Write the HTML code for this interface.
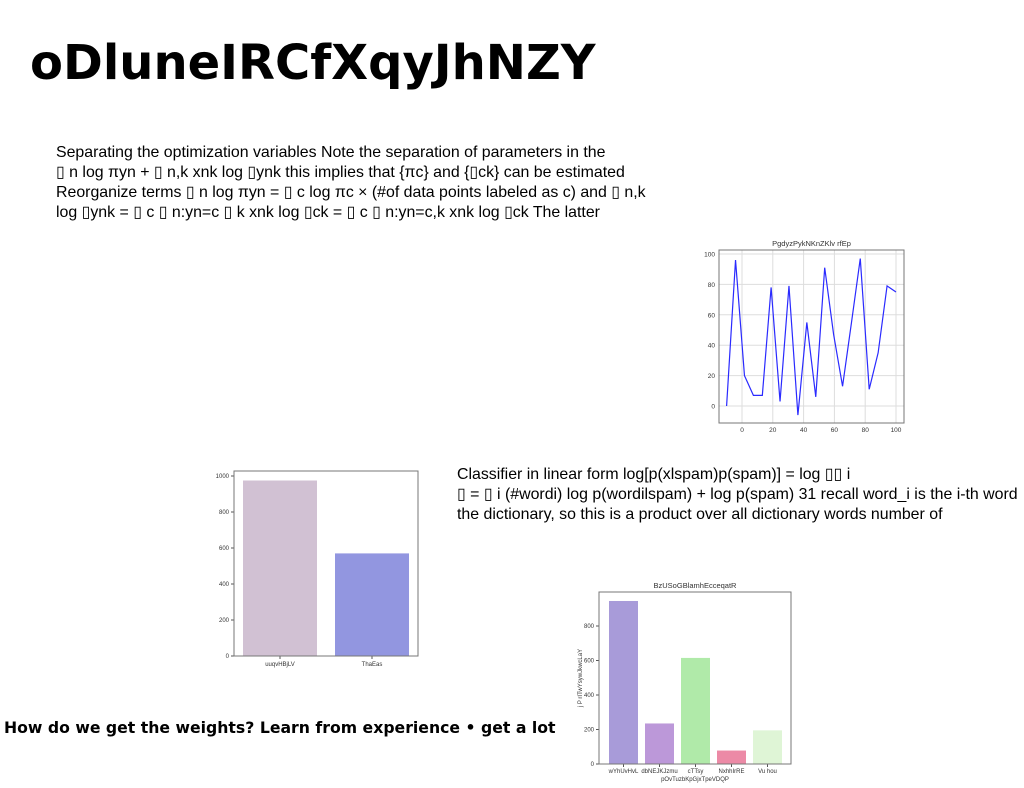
<!DOCTYPE html>
<html><head><meta charset="utf-8">
<style>
body{margin:0;width:1024px;height:788px;background:#fff;position:relative;overflow:hidden;font-family:"Liberation Sans","DejaVu Sans",sans-serif;color:#000}
.t{position:absolute;white-space:nowrap}
#title{left:30px;top:35px;font-size:48px;font-weight:bold;font-family:"DejaVu Sans","Liberation Sans",sans-serif}
.p{font-size:15.9px;line-height:20px}
svg{position:absolute;left:0;top:0}
svg text{font-family:"Liberation Sans","DejaVu Sans",sans-serif;fill:#333}
</style></head><body>
<div id="title" class="t">oDluneIRCfXqyJhNZY</div>
<div class="t p" style="left:56px;top:143px">Separating the optimization variables Note the separation of parameters in the<br>▯ n log πyn + ▯ n,k xnk log ▯ynk this implies that {πc} and {▯ck} can be estimated<br>Reorganize terms ▯ n log πyn = ▯ c log πc × (#of data points labeled as c) and ▯ n,k<br>log ▯ynk = ▯ c ▯ n:yn=c ▯ k xnk log ▯ck = ▯ c ▯ n:yn=c,k xnk log ▯ck The latter</div>
<div class="t p" style="left:457px;top:465px">Classifier in linear form log[p(xlspam)p(spam)] = log ▯▯ i<br>▯ = ▯ i (#wordi) log p(wordilspam) + log p(spam) 31 recall word_i is the i-th word<br>the dictionary, so this is a product over all dictionary words number of</div>
<div class="t" style="left:4px;top:718px;font-size:15.7px;font-weight:bold;font-family:'DejaVu Sans','Liberation Sans',sans-serif">How do we get the weights? Learn from experience • get a lot</div>
<svg id="svg" width="1024" height="788"></svg>
<script>
// Line chart data
const lineX=[-10,-4.2,1.6,7.4,13.2,18.9,24.7,30.5,36.3,42.1,47.9,53.7,59.5,65.3,71.1,76.8,82.6,88.4,94.2,100];
const lineY=[0,96,20,7,7,78,3,79,-6,55,6,91,47,13,55,97,11,35,79,75];
const lineXTicks=[0,20,40,60,80,100];
const lineYTicks=[0,20,40,60,80,100];
// Bar chart 1
const bar1Cats=["uuqvHBjLV","ThaEas"];
const bar1Vals=[975,570];
const bar1Ticks=[0,200,400,600,800,1000];
// Bar chart 2
const bar2Cats=["wYhUvHvL","dbNEJKJzmu","cTTsy","NxhhIrRE","Vu hou"];
const bar2Vals=[945,235,615,78,195];
const bar2Ticks=[0,200,400,600,800];

const S=document.getElementById('svg');const NS='http://www.w3.org/2000/svg';
function mk(tag,attrs,parent){const e=document.createElementNS(NS,tag);for(const k in attrs)e.setAttribute(k,attrs[k]);(parent||S).appendChild(e);return e;}
function txt(x,y,s,size,anchor,parent){const e=mk('text',{x:x,y:y,'font-size':size,'text-anchor':anchor||'middle'},parent);e.textContent=s;return e;}

// ---- Line chart
(function(){
const g=mk('g',{});


const L=719,R=904,T=250,B=423;
const sx=v=>742+(v-0)*(896-742)/100, sy=v=>406-(v-0)*(406-254)/100;
lineXTicks.forEach(v=>{const l=mk('line',{x1:sx(v),x2:sx(v),y1:T,y2:B,stroke:'#ddd','stroke-width':1},g);
 const t=txt(sx(v),432,v,6.5,'middle',g);});
lineYTicks.forEach(v=>{const l=mk('line',{x1:L,x2:R,y1:sy(v),y2:sy(v),stroke:'#ddd','stroke-width':1},g);
 const t=txt(L-4,sy(v)+2.5,v,6.5,'end',g);});
const fr=mk('rect',{x:L,y:T,width:R-L,height:B-T,fill:'none',stroke:'#777','stroke-width':1},g);

const pl=mk('polyline',{points:lineX.map((x,i)=>sx(x)+','+sy(lineY[i])).join(' '),fill:'none',stroke:'#2a2aff','stroke-width':1.2},g);

const tt=txt((L+R)/2,246,'PgdyzPykNKnZKlv rfEp',7.5,'middle',g);
})();

// ---- Bar chart 1
(function(){
const g=mk('g',{});


const L=234,R=418,T=471,B=656;
const sy=v=>B-v*(656-476)/1000;
const colors=['#d1c1d3','#9296e0'];
const step=(R-L)/bar1Cats.length,w=74;
bar1Cats.forEach((c,i)=>{const cx=L+step*(i+0.5);
 const r=mk('rect',{x:cx-w/2,y:sy(bar1Vals[i]),width:w,height:B-sy(bar1Vals[i]),fill:colors[i]},g);
 mk('line',{x1:cx,x2:cx,y1:B,y2:B+3,stroke:'#555'},g);
 const t=txt(cx,666,c,6,'middle',g);});
bar1Ticks.forEach(v=>{mk('line',{x1:L-3,x2:L,y1:sy(v),y2:sy(v),stroke:'#555'},g);
 const t=txt(L-5,sy(v)+2,v,6,'end',g);});
const fr=mk('rect',{x:L,y:T,width:R-L,height:B-T,fill:'none',stroke:'#777','stroke-width':1},g);

})();

// ---- Bar chart 2
(function(){
const g=mk('g',{});


const L=599,R=791,T=592,B=764;
const sy=v=>B-v*(764-626)/800;
const colors=['#a89bd9','#bc98d9','#b0eaa9','#ec8aa6','#dff5d6'];
const step=36,w=29,x0=609;
bar2Cats.forEach((c,i)=>{const bx=x0+i*step,cx=bx+w/2;
 const r=mk('rect',{x:bx,y:sy(bar2Vals[i]),width:w,height:B-sy(bar2Vals[i]),fill:colors[i]},g);
 mk('line',{x1:cx,x2:cx,y1:B,y2:B+3,stroke:'#555'},g);
 const t=txt(cx,773,c,6,'middle',g);});
bar2Ticks.forEach(v=>{mk('line',{x1:L-3,x2:L,y1:sy(v),y2:sy(v),stroke:'#555'},g);
 const t=txt(L-5,sy(v)+2,v,6,'end',g);});
const fr=mk('rect',{x:L,y:T,width:R-L,height:B-T,fill:'none',stroke:'#777','stroke-width':1},g);

const tt=txt((L+R)/2,588,'BzUSoGBlamhEcceqatR',7.5,'middle',g);
const xl=txt((L+R)/2,781,'pOvTuzbKpGjxTpeVDQP',6,'middle',g);
const yl=txt(0,0,'j P rITwYsywJkwcLaY',6,'middle',g);yl.setAttribute('transform','translate(582,678) rotate(-90)');

})();
</script>
</body></html>
